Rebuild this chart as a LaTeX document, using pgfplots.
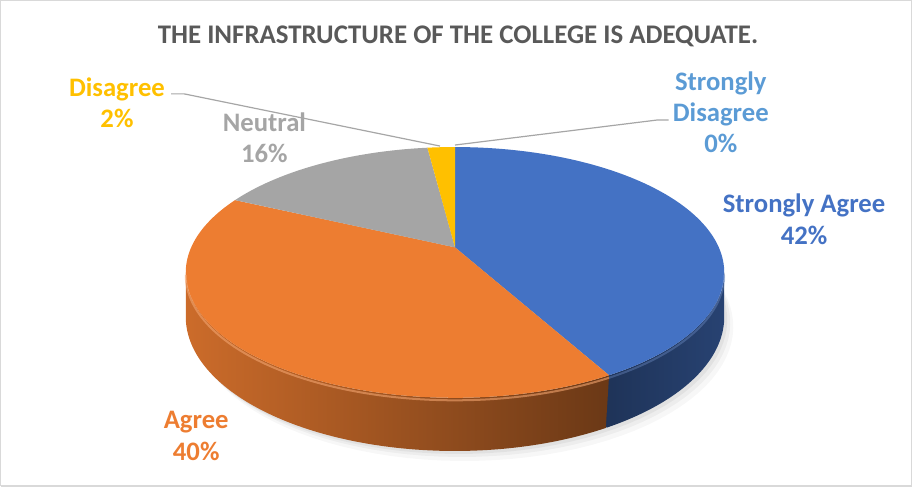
\documentclass[border=0pt]{standalone}
\usepackage{fontspec}
\setmainfont{Carlito}
\usepackage{pgfplots}
\usepackage{pgfplotstable}
\pgfplotsset{compat=1.18}
\definecolor{cSA}{HTML}{4472C4}
\definecolor{cA}{HTML}{ED7D31}
\definecolor{cN}{HTML}{A5A5A5}
\definecolor{cD}{HTML}{FFC000}
\definecolor{cSD}{HTML}{5B9BD5}
\definecolor{ctitle}{HTML}{595959}
\definecolor{cleader}{HTML}{A6A6A6}
\definecolor{cborder}{HTML}{D9D9D9}
\pgfplotstableread{
label value
SA 42
A 40
N 16
D 2
SD 0
}\pietable
\pgfplotstablegetelem{0}{value}\of\pietable \let\vSA\pgfplotsretval
\pgfplotstablegetelem{1}{value}\of\pietable \let\vA\pgfplotsretval
\pgfplotstablegetelem{2}{value}\of\pietable \let\vN\pgfplotsretval
\pgfplotstablegetelem{3}{value}\of\pietable \let\vD\pgfplotsretval
\pgfmathsetmacro\aS{90}
\pgfmathsetmacro\aSA{\aS-3.6*\vSA}
\pgfmathsetmacro\aA{\aSA-3.6*\vA}
\pgfmathsetmacro\aN{\aA-3.6*\vN}
\pgfmathsetmacro\aD{\aN-3.6*\vD}
\pgfmathsetmacro\aSAo{\aSA-0.6}
\pgfmathsetmacro\sL{-168.5}
\pgfmathsetmacro\sR{-11.5}
\begin{document}
\begin{tikzpicture}
\begin{axis}[scale only axis, width=456pt, height=244pt,
  xmin=0, xmax=912, ymin=0, ymax=488, hide axis, clip=false,
  declare function={
    px(\t)=455+263*cos(\t)/(1+0.2*sin(\t));
    py(\t)=240+120*sin(\t)/(1+0.2*sin(\t));
    th(\t)=42.4/(1+0.2*sin(\t));
  }]
% frame
\addplot[draw=cborder, line width=0.6pt] coordinates {(2,2) (910,2) (910,486) (2,486) (2,2)};
% shadow
\addplot[draw=none, fill=black, opacity=0.03, domain=0:360, samples=120] ({px(x)+9},{py(x)-th(x)-10}) -- cycle;
\addplot[draw=none, fill=black, opacity=0.04, domain=0:360, samples=120] ({px(x)+6},{py(x)-th(x)-6}) -- cycle;
\addplot[draw=none, fill=black, opacity=0.05, domain=0:360, samples=120] ({px(x)+3},{py(x)-th(x)-3}) -- cycle;
% sides
\addplot[draw=none, left color=cSA!45!black, right color=cSA!58!black, domain=0:2, samples=201]
  ({px(\aSAo+(\sR-\aSAo)*min(x,2-x))},{py(\aSAo+(\sR-\aSAo)*min(x,2-x))-(x>1)*th(\aSAo+(\sR-\aSAo)*min(x,2-x))}) -- cycle;
\addplot[draw=none, left color=cA!86!black, middle color=cA!68!black, right color=cA!45!black, domain=0:2, samples=301]
  ({px(\sL+(\aSA-\sL)*min(x,2-x))},{py(\sL+(\aSA-\sL)*min(x,2-x))-(x>1)*th(\sL+(\aSA-\sL)*min(x,2-x))}) -- cycle;
% top face wedges
\addplot[draw=none, fill=cSA, domain=\aSA:\aS, samples=100] ({px(x)},{py(x)}) -- (455,240) -- cycle;
\addplot[draw=none, fill=cA, domain=\aA:\aSA, samples=100] ({px(x)},{py(x)}) -- (455,240) -- cycle;
\addplot[draw=none, fill=cN, domain=\aN:\aA, samples=50] ({px(x)},{py(x)}) -- (455,240) -- cycle;
\addplot[draw=none, fill=cD, domain=\aD:\aN, samples=10] ({px(x)},{py(x)}) -- (455,240) -- cycle;
% bevel highlight
\addplot[draw=cA!70!white, opacity=0.6, line width=1pt, domain=\sL:\aSA, samples=100] ({px(x)},{py(x)-2.5});
\addplot[draw=cSA!70!white, opacity=0.35, line width=1pt, domain=\aSA:\sR, samples=60] ({px(x)},{py(x)-2.5});
% leader lines
\addplot[draw=cleader, line width=0.6pt] coordinates {(172,393) (185,393) (440,341)};
\addplot[draw=cleader, line width=0.6pt] coordinates {(455,342) (657,367) (668,367)};
% labels
\node[font=\bfseries\fontsize{13.4}{16}\selectfont, text=ctitle] at (axis cs:458,450) {THE INFRASTRUCTURE OF THE COLLEGE IS ADEQUATE.};
\node[font=\bfseries\fontsize{13.3}{15.5}\selectfont, text=cSA, align=center] at (axis cs:803,268) {Strongly Agree\\42\%};
\node[font=\bfseries\fontsize{13.3}{15.5}\selectfont, text=cA, align=center] at (axis cs:197,52) {Agree\\40\%};
\node[font=\bfseries\fontsize{13.3}{15.5}\selectfont, text=cN, align=center] at (axis cs:265,349) {Neutral\\16\%};
\node[font=\bfseries\fontsize{13.3}{15.5}\selectfont, text=cD, align=center] at (axis cs:118,384) {Disagree\\2\%};
\node[font=\bfseries\fontsize{13.3}{15.5}\selectfont, text=cSD, align=center] at (axis cs:720,375) {Strongly\\Disagree\\0\%};
\end{axis}
\end{tikzpicture}
\end{document}
